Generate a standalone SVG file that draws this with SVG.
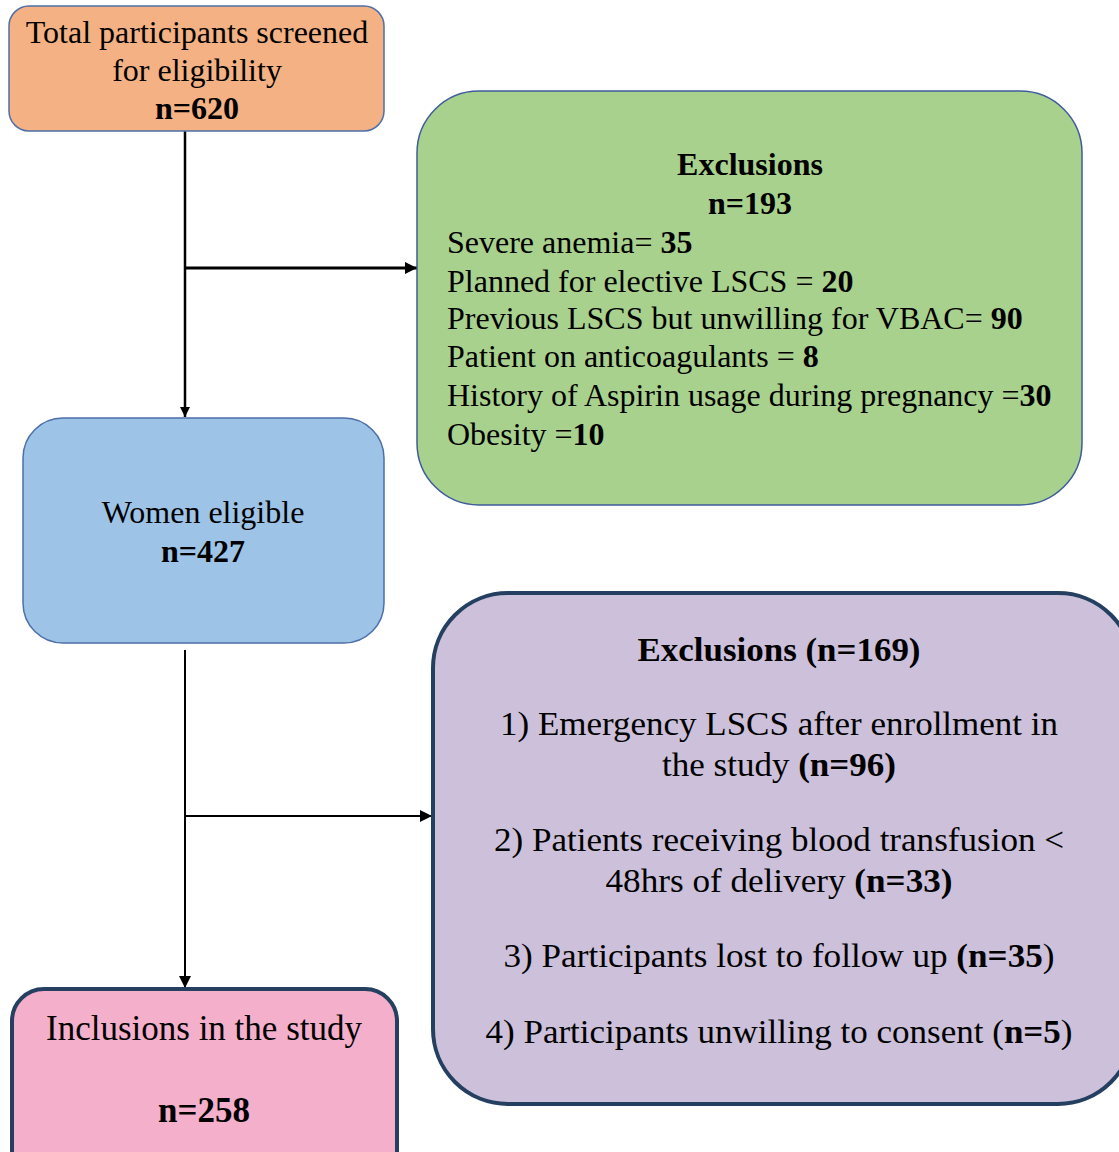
<svg xmlns="http://www.w3.org/2000/svg" width="1119" height="1152" viewBox="0 0 1119 1152">
<style>
text{font-family:"Liberation Serif","Times New Roman",serif;fill:#000}
.t{font-size:32px}
.k{font-size:35px}
.p{font-size:33px}
.c{text-anchor:middle}
.b{font-weight:bold}
.ln{stroke:#000;fill:none}
</style>
<defs>
<marker id="ah" viewBox="0 0 10 10" refX="10" refY="5" markerWidth="4" markerHeight="4" orient="auto" markerUnits="strokeWidth"><path d="M0,0L10,5L0,10z" fill="#000"/></marker>
<marker id="ah2" viewBox="0 0 10 10" refX="10" refY="5" markerWidth="6" markerHeight="6" orient="auto" markerUnits="strokeWidth"><path d="M0,0L10,5L0,10z" fill="#000"/></marker>
</defs>
<rect width="1119" height="1152" fill="#fff"/>
<g id="connectors">
<line class="ln" x1="185" y1="131" x2="185" y2="417" stroke-width="2.5" marker-end="url(#ah)"/>
<line class="ln" x1="185" y1="268" x2="417" y2="268" stroke-width="3" marker-end="url(#ah)"/>
<line class="ln" x1="185" y1="650" x2="185" y2="988" stroke-width="2" marker-end="url(#ah2)"/>
<line class="ln" x1="185" y1="816" x2="432" y2="816" stroke-width="2" marker-end="url(#ah2)"/>
</g>
<g id="screened">
<rect x="9" y="6" width="375" height="125" rx="20" fill="#F4B183" stroke="#4E6FA8" stroke-width="1.5"/>
<text class="t c" x="197" y="43">Total participants screened</text>
<text class="t c" x="197" y="81">for eligibility</text>
<text class="t c b" x="197" y="119">n=620</text>
</g>
<g id="exclusions1">
<rect x="417" y="91" width="665" height="414" rx="62" fill="#A9D18E" stroke="#3E5C9A" stroke-width="1.5"/>
<text class="t c b" x="750" y="175">Exclusions</text>
<text class="t c b" x="750" y="214">n=193</text>
<text class="t" x="447" y="253">Severe anemia= <tspan class="b">35</tspan></text>
<text class="t" x="447" y="292">Planned for elective LSCS = <tspan class="b">20</tspan></text>
<text class="t" x="447" y="329">Previous LSCS but unwilling for VBAC= <tspan class="b">90</tspan></text>
<text class="t" x="447" y="367">Patient on anticoagulants = <tspan class="b">8</tspan></text>
<text class="t" x="447" y="406">History of Aspirin usage during pregnancy =<tspan class="b">30</tspan></text>
<text class="t" x="447" y="445">Obesity =<tspan class="b">10</tspan></text>
</g>
<g id="eligible">
<rect x="23" y="418" width="361" height="225" rx="40" fill="#9DC3E6" stroke="#4E6FA8" stroke-width="1.5"/>
<text class="t c" x="203" y="523">Women eligible</text>
<text class="t c b" x="203" y="562">n=427</text>
</g>
<g id="exclusions2">
<rect x="433" y="593" width="700" height="511" rx="75" fill="#CCC0DA" stroke="#243F60" stroke-width="4"/>
<text class="p c b" x="779" y="661" textLength="283" lengthAdjust="spacingAndGlyphs">Exclusions (n=169)</text>
<text class="p c" x="779" y="735" textLength="558" lengthAdjust="spacingAndGlyphs">1) Emergency LSCS after enrollment in</text>
<text class="p c" x="779" y="776" textLength="234" lengthAdjust="spacingAndGlyphs">the study <tspan class="b">(n=96)</tspan></text>
<text class="p c" x="779" y="851" textLength="570" lengthAdjust="spacingAndGlyphs">2) Patients receiving blood transfusion &lt;</text>
<text class="p c" x="779" y="892" textLength="347" lengthAdjust="spacingAndGlyphs">48hrs of delivery <tspan class="b">(n=33)</tspan></text>
<text class="p c" x="779" y="967" textLength="551" lengthAdjust="spacingAndGlyphs">3) Participants lost to follow up <tspan class="b">(n=35</tspan>)</text>
<text class="p c" x="779" y="1043" textLength="587" lengthAdjust="spacingAndGlyphs">4) Participants unwilling to consent (<tspan class="b">n=5</tspan>)</text>
</g>
<g id="inclusions">
<rect x="12" y="989" width="385" height="200" rx="32" fill="#F4AFCB" stroke="#243F60" stroke-width="4"/>
<text class="k c" x="204" y="1040">Inclusions in the study</text>
<text class="k c b" x="204" y="1122">n=258</text>
</g>
</svg>
